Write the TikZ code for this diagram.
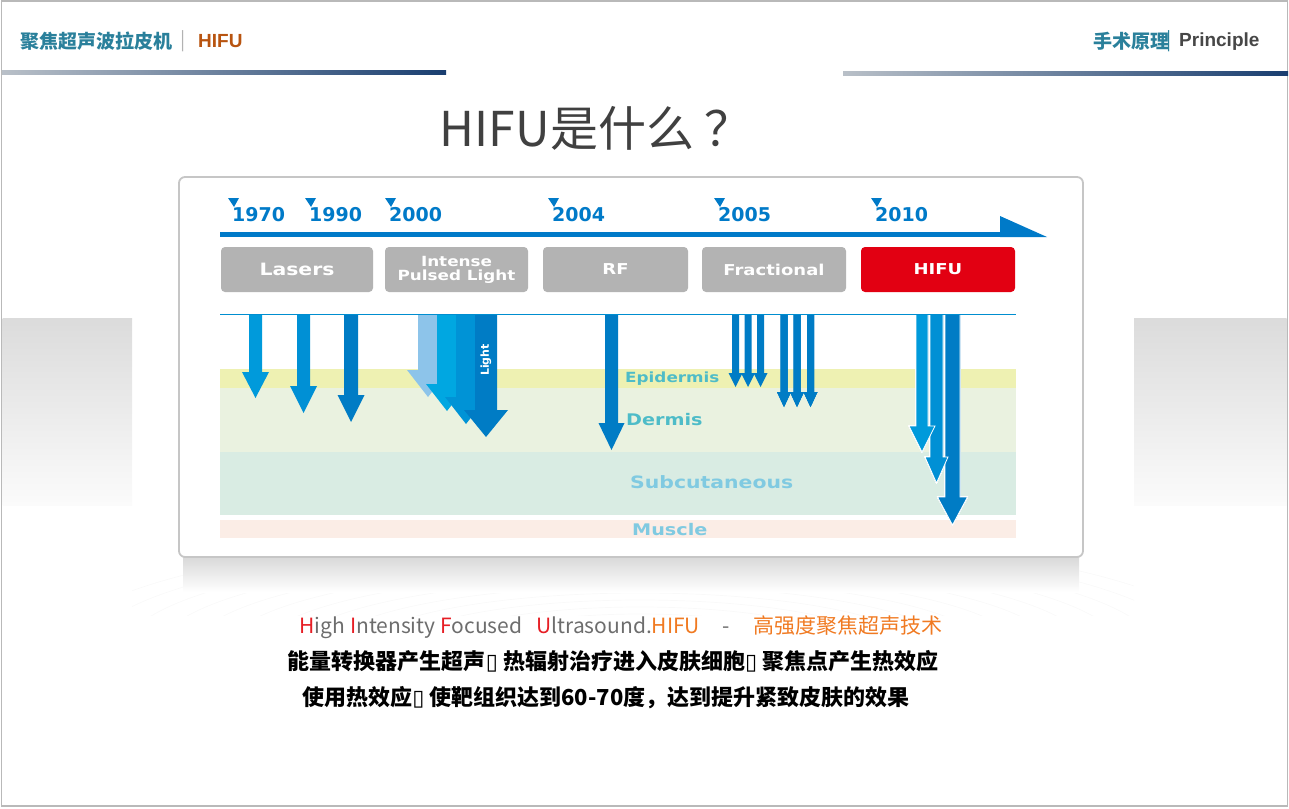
\documentclass[tikz,border=0pt]{standalone}
\usepackage{fontspec}
\setmainfont{Noto Sans CJK SC}
\newfontfamily\latinfont{Liberation Sans}
\newfontfamily\yearfont{DejaVu Sans}
\newfontfamily\tlfont[FakeStretch=1.2]{DejaVu Sans}
\newfontfamily\boxglyph{DejaVu Sans}
\definecolor{headteal}{RGB}{42,128,155}
\definecolor{headbrown}{RGB}{184,84,16}
\definecolor{linegray}{RGB}{185,192,200}
\definecolor{linemid}{RGB}{100,155,200}
\definecolor{linenavy}{RGB}{25,62,112}
\definecolor{tlblue}{RGB}{0,122,200}
\definecolor{boxgray}{RGB}{179,179,179}
\definecolor{boxred}{RGB}{226,0,18}
\definecolor{epiband}{RGB}{238,241,178}
\definecolor{derband}{RGB}{234,242,224}
\definecolor{subband}{RGB}{217,236,227}
\definecolor{musband}{RGB}{251,237,230}
\definecolor{epitext}{RGB}{78,188,200}
\definecolor{subtext}{RGB}{128,202,225}
\definecolor{arrowA}{RGB}{0,154,219}
\definecolor{arrowB}{RGB}{0,144,213}
\definecolor{arrowC}{RGB}{0,124,197}
\definecolor{iplA}{RGB}{141,196,234}
\definecolor{iplB}{RGB}{0,167,225}
\definecolor{iplC}{RGB}{0,147,214}
\definecolor{hired}{RGB}{230,30,37}
\definecolor{txtgray}{RGB}{109,109,109}
\definecolor{hiorange}{RGB}{240,122,34}
% colour, centre x, shaft half width, head half width, head y, tip y
\newcommand{\skinarrow}[6]{%
  \fill[#1] ({#2-#3},314) -- ({#2-#3},#5) -- ({#2-#4},#5) -- (#2,#6)
    -- ({#2+#4},#5) -- ({#2+#3},#5) -- ({#2+#3},314) -- cycle;}
\tikzset{
  hdtext/.style={anchor=west,inner sep=0,font=\bfseries\fontsize{19}{19}\selectfont},
  yearlabel/.style={anchor=west,inner sep=0,text=tlblue,
    font=\yearfont\bfseries\fontsize{19}{19}\selectfont},
  techbox/.style={rounded corners=4pt,fill=boxgray,text=white,inner sep=0,
    minimum height=45pt,align=center,font=\tlfont\bfseries\fontsize{15}{15}\selectfont},
  layerlabel/.style={anchor=west,inner sep=0,text=epitext},
  bodyline/.style={inner sep=0,font=\bfseries\fontsize{22}{22}\selectfont}
}
\begin{document}
\begin{tikzpicture}[x=1pt,y=-1pt]
    \useasboundingbox (0,0) rectangle (1289,808);
    \draw[gray!55,line width=1.5pt] (1.5,1) rectangle (1287.5,806);
    \node[hdtext,text=headteal] (brand) at (20,41) {聚焦超声波拉皮机};
    \node[hdtext,text=gray!60,font=\fontsize{19}{19}\selectfont] (bar1) at (180,41) {|};
    \node[hdtext,text=headbrown,font=\latinfont\bfseries\fontsize{19}{19}\selectfont] (hdhifu) at (198,41) {HIFU};
    \node[hdtext,text=headteal] (yuanli) at (1093,41) {手术原理};
    \node[hdtext,text=headteal,font=\fontsize{19}{19}\selectfont] (bar2) at (1166,41) {|};
    \node[hdtext,text=black!72,font=\latinfont\bfseries\fontsize{19}{19}\selectfont] (principle) at (1179,42) {Principle};
    \shade[left color=linegray,middle color=linemid,right color=linenavy] (2,70) rectangle (446,74);
    \shade[left color=linegray,middle color=linemid,right color=linenavy] (843,71) rectangle (1288,75);
    \node[text=black!75,font=\fontsize{48}{48}\selectfont] (title) at (596,128) {HIFU是什么\hspace{10pt}？};
    \shade[top color=gray!28,bottom color=gray!3] (2.5,318) rectangle (132,505);
    \shade[top color=gray!28,bottom color=gray!3] (1134,318) rectangle (1286.5,505);
    \begin{scope}
      \clip (132,505) rectangle (1134,615);
      \foreach \r in {1,...,16}
      \draw[gray!5,line width=0.7pt] (640,650) ellipse ({40+\r*34} and {8+\r*7});
    \end{scope}
    \shade[top color=gray!30,bottom color=white] (183,557) rectangle (1079,592);
    \draw[gray!45,line width=1.8pt,rounded corners=6pt,fill=white] (179,177) rectangle (1083,557);
    \foreach \tx/\yr in {228/1970,305/1990,385/2000,548/2004,714/2005,871/2010} {
      \fill[tlblue] (\tx,198) -- ++(11,0) -- ++(-5,9) -- cycle;
      \node[yearlabel] (y\yr) at (\tx+4,215) {\yr};
    }
    \coordinate (tl start) at (220,234.5);
    \coordinate (tl end) at (1003,234.5);
    \draw[tlblue,line width=5pt] (tl start) -- (tl end);
    \fill[tlblue] (1000,216) -- (1047,237) -- (1000,237) -- cycle;
    \node[techbox,minimum width=152pt,font=\tlfont\bfseries\fontsize{17}{17}\selectfont] (lasers) at (297,269.5) {Lasers};
    \node[techbox,minimum width=143pt,font=\tlfont\bfseries\fontsize{14}{14}\selectfont] (ipl) at (456.5,269.5) {Intense\\Pulsed Light};
    \node[techbox,minimum width=145pt] (rf) at (615.5,269.5) {RF};
    \node[techbox,minimum width=144pt] (fractional) at (774,269.5) {Fractional};
    \node[techbox,minimum width=154pt,fill=boxred] (hifu) at (938,269.5) {HIFU};
    \fill[epiband] (220,369) rectangle (1016,388);
    \fill[derband] (220,388) rectangle (1016,452);
    \fill[subband] (220,452) rectangle (1016,515);
    \fill[musband] (220,520) rectangle (1016,538);
    \node[layerlabel,font=\tlfont\bfseries\fontsize{14}{14}\selectfont] (epidermis) at (625,379) {Epidermis};
    \node[layerlabel,font=\tlfont\bfseries\fontsize{16}{16}\selectfont] (dermis) at (626,420) {Dermis};
    \node[layerlabel,text=subtext,font=\tlfont\bfseries\fontsize{17}{17}\selectfont] (subcutaneous) at (630,482) {Subcutaneous};
    \node[layerlabel,text=subtext,font=\tlfont\bfseries\fontsize{16}{16}\selectfont] (muscle) at (632,530) {Muscle};
    \skinarrow{arrowA}{255.5}{6.5}{13.5}{372}{398}
    \skinarrow{arrowB}{303.5}{6.5}{13.5}{386}{413}
    \skinarrow{arrowC}{351}{7}{13.5}{395}{422}
    \skinarrow{iplA}{428}{10}{21}{370}{397}
    \skinarrow{iplB}{447}{10}{21}{384}{411}
    \skinarrow{iplC}{466}{10}{21}{397}{424}
    \skinarrow{arrowC}{486}{11}{22}{410}{437}
    \node[rotate=90,text=white,inner sep=0,font=\yearfont\bfseries\fontsize{11}{11}\selectfont] (light) at (486,360) {Light};
    \skinarrow{arrowC}{611.5}{6.5}{13}{423}{450}
    \foreach \cx in {735.5,748,760.5}
    \skinarrow{arrowC}{\cx}{3.5}{7}{373}{387}
    \foreach \cx in {784,797,810.5}
    \skinarrow{arrowC}{\cx}{3.5}{7}{392}{407}
    \skinarrow{arrowC,draw=white,line width=0.8pt}{952.5}{7.5}{15}{497}{525}
    \skinarrow{arrowB,draw=white,line width=0.8pt}{936.5}{6.5}{11.5}{457}{483}
    \skinarrow{arrowA,draw=white,line width=0.8pt}{922}{6}{13}{426}{452}
    \draw[tlblue!85!cyan,line width=1.2pt] (220,314.5) -- (1016,314.5);
    \node[inner sep=0,text=txtgray,font=\fontsize{21}{21}\selectfont] (fullname) at (621,627)
      {\textcolor{hired}{H}igh \textcolor{hired}{I}ntensity \textcolor{hired}{F}ocused\hspace{14pt}\textcolor{hired}{U}ltrasound.\textcolor{hiorange}{HIFU}\hspace{22pt}-\hspace{24pt}\textcolor{hiorange}{高强度聚焦超声技术}};
    \node[bodyline] (line two) at (613,661) {能量转换器产生超声{\boxglyph ▯} 热辐射治疗进入皮肤细胞{\boxglyph ▯} 聚焦点产生热效应};
    \node[bodyline] (line three) at (606,698) {使用热效应{\boxglyph ▯} 使靶组织达到60-70度，达到提升紧致皮肤的效果};
\end{tikzpicture}
\end{document}
